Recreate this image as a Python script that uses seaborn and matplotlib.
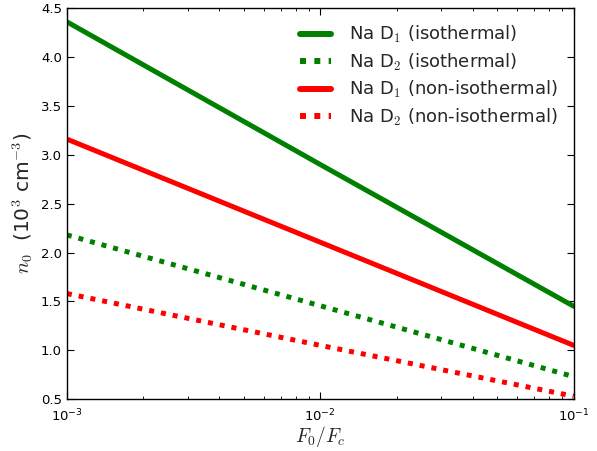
import numpy as np
import pandas as pd
import seaborn as sns
import matplotlib
matplotlib.use('Agg')
import matplotlib.pyplot as plt
from matplotlib.ticker import LogFormatterSciNotation, MultipleLocator

# данные
flux = [1e-3, 1e-2, 1e-1]
d1_iso = [4.36, 2.90, 1.45]
d2_iso = [2.18, 1.455, 0.73]
d1_noniso = [3.16, 2.105, 1.05]
d2_noniso = [1.58, 1.05, 0.53]

labels = ['Na D$_1$ (isothermal)', 'Na D$_2$ (isothermal)',
          'Na D$_1$ (non-isothermal)', 'Na D$_2$ (non-isothermal)']
series = [d1_iso, d2_iso, d1_noniso, d2_noniso]

df = pd.DataFrame({
    'F': flux * 4,
    'n0': sum(series, []),
    'label': np.repeat(labels, len(flux)),
})

sns.set_style('ticks')
plt.rcParams['font.family'] = ['DejaVu Sans']
plt.rcParams['mathtext.fontset'] = 'cm'
plt.rcParams['xtick.direction'] = 'in'
plt.rcParams['ytick.direction'] = 'in'

fig = plt.figure(figsize=(5.97, 4.51), dpi=100)
ax = fig.add_axes([0.112, 0.115, 0.849, 0.867])

palette = dict(zip(labels, ['green', 'green', 'red', 'red']))
dashes = dict(zip(labels, ['', (1, 1.4), '', (1, 1.4)]))

sns.lineplot(data=df, x='F', y='n0', hue='label', style='label',
             palette=palette, dashes=dashes, hue_order=labels,
             style_order=labels, linewidth=3.6, ax=ax)

ax.set_xscale('log')
ax.set_xlim(1e-3, 1e-1)
ax.set_ylim(0.5, 4.5)
ax.yaxis.set_major_locator(MultipleLocator(0.5))
ax.xaxis.set_major_formatter(LogFormatterSciNotation())

ax.tick_params(which='both', top=True, right=True, direction='in',
               labelsize=9.5, color='black', labelcolor='black')
ax.tick_params(which='major', length=5, width=0.8)
ax.tick_params(which='minor', length=2.5, width=0.6)
ax.tick_params(axis='x', which='major', pad=6)
for s in ax.spines.values():
    s.set_color('black')
    s.set_linewidth(1)

ax.set_xlabel('$F_0/F_c$', fontsize=14, labelpad=0)
ax.set_ylabel('$n_0$  (10$^3$ cm$^{-3}$)', fontsize=14.5, labelpad=4)

for line in ax.get_lines():
    line.set_dash_capstyle('butt')

handles, lbls = ax.get_legend_handles_labels()
leg = ax.legend(handles, lbls, loc='upper right', frameon=False, fontsize=13,
                handlelength=1.7, handletextpad=1.0, labelspacing=0.35)
for h in leg.get_lines():
    h.set_linewidth(4.3)
    h.set_dash_capstyle('butt')

fig.savefig('out.png', dpi=100)
